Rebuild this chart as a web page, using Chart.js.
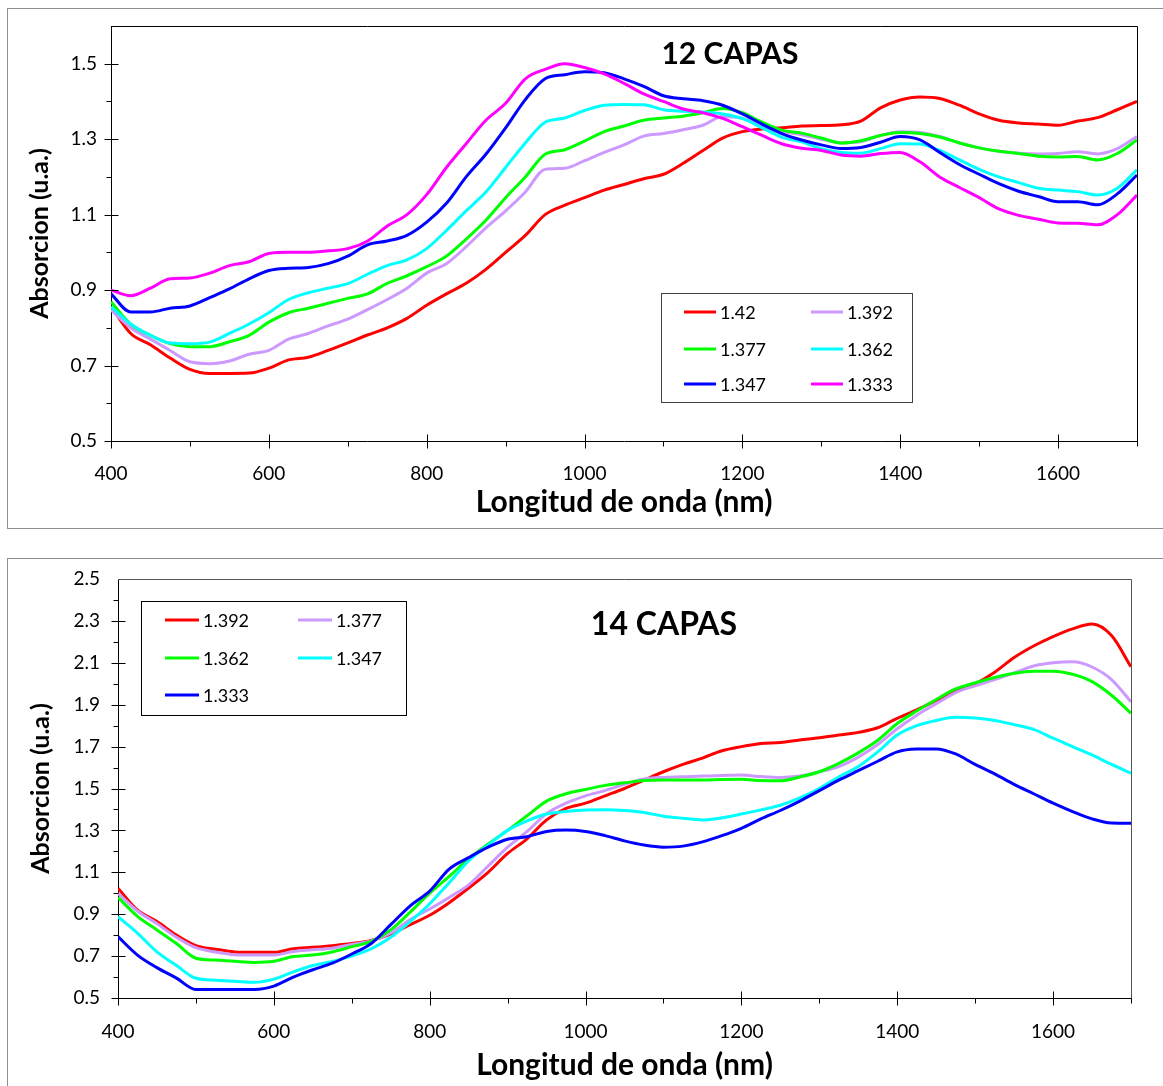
<!DOCTYPE html>
<html>
<head>
<meta charset="utf-8">
<title>Absorcion 12 y 14 capas</title>
<script src="https://cdn.jsdelivr.net/npm/chart.js@4.4.1/dist/chart.umd.min.js"></script>
<style>
  body { margin: 0; background: #fff; width: 1163px; height: 1086px; overflow: hidden; position: relative; }
  .frame { position: absolute; border: 1px solid #8e8e8e; }
  canvas { position: absolute; left: 0; }
</style>
</head>
<body>
<div class="frame" style="left:7px;top:8px;width:1170px;height:519px;"></div>
<div class="frame" style="left:7px;top:558px;width:1170px;height:540px;"></div>
<canvas id="chart12" width="1163" height="530" style="top:0"></canvas>
<canvas id="chart14" width="1163" height="541" style="top:545px"></canvas>
<script>
// wavelength (nm), shared by both charts
const wavelengths = [400,425,450,475,500,525,550,575,600,625,650,675,700,725,750,775,800,825,850,875,
  900,925,950,975,1000,1025,1050,1075,1100,1125,1150,1175,1200,1225,1250,1275,1300,1325,1350,1375,
  1400,1425,1450,1475,1500,1525,1550,1575,1600,1625,1650,1675,1700];

// ---- 12 CAPAS ----
const names12 = ['1.42', '1.392', '1.377', '1.362', '1.347', '1.333'];
const colors12 = ['#ff0000', '#cc99ff', '#00ff00', '#00ffff', '#0000ff', '#ff00ff'];

const c12_142 = [0.856,0.785,0.755,0.72,0.69,0.679,0.679,0.68,0.693,0.715,
  0.722,0.74,0.76,0.781,0.8,0.825,0.86,0.89,0.918,0.955,
  1.0,1.045,1.1,1.125,1.145,1.165,1.18,1.195,1.207,1.236,
  1.27,1.303,1.32,1.327,1.33,1.335,1.336,1.338,1.348,1.383,
  1.404,1.412,1.408,1.39,1.367,1.35,1.343,1.34,1.337,1.348,
  1.357,1.378,1.4];
const c12_1392 = [0.847,0.8,0.77,0.74,0.71,0.705,0.712,0.73,0.74,0.77,
  0.785,0.805,0.823,0.848,0.875,0.905,0.945,0.97,1.015,1.065,
  1.11,1.16,1.22,1.223,1.243,1.265,1.285,1.308,1.315,1.325,
  1.337,1.36,1.355,1.335,1.32,1.312,1.3,1.29,1.293,1.31,
  1.32,1.318,1.307,1.29,1.277,1.268,1.263,1.261,1.262,1.267,
  1.261,1.275,1.307];
const c12_1377 = [0.869,0.81,0.78,0.758,0.75,0.75,0.763,0.78,0.815,0.84,
  0.852,0.865,0.878,0.89,0.918,0.938,0.962,0.99,1.035,1.085,
  1.145,1.2,1.26,1.272,1.295,1.32,1.335,1.35,1.356,1.361,
  1.37,1.381,1.37,1.345,1.324,1.316,1.303,1.29,1.296,1.31,
  1.318,1.315,1.306,1.29,1.277,1.268,1.262,1.255,1.253,1.254,
  1.245,1.262,1.298];
const c12_1362 = [0.856,0.81,0.78,0.76,0.758,0.762,0.785,0.81,0.84,0.875,
  0.893,0.905,0.917,0.942,0.965,0.98,1.01,1.058,1.11,1.16,
  1.225,1.29,1.345,1.356,1.376,1.39,1.392,1.391,1.378,1.374,
  1.372,1.367,1.355,1.33,1.305,1.293,1.275,1.265,1.263,1.275,
  1.288,1.287,1.27,1.245,1.22,1.2,1.185,1.17,1.165,1.161,
  1.152,1.17,1.219];
const c12_1347 = [0.89,0.842,0.842,0.852,0.858,0.88,0.903,0.93,0.952,0.958,
  0.96,0.97,0.99,1.02,1.03,1.045,1.08,1.13,1.2,1.26,
  1.33,1.405,1.46,1.471,1.479,1.476,1.46,1.44,1.415,1.407,
  1.402,1.39,1.367,1.34,1.315,1.298,1.285,1.275,1.278,1.292,
  1.307,1.298,1.265,1.233,1.207,1.182,1.162,1.148,1.134,1.134,
  1.126,1.155,1.205];
const c12_1333 = [0.9,0.885,0.905,0.93,0.932,0.945,0.965,0.975,0.997,1.0,
  1.0,1.004,1.01,1.03,1.07,1.1,1.153,1.225,1.288,1.35,
  1.395,1.46,1.485,1.5,1.49,1.473,1.448,1.42,1.4,1.38,
  1.37,1.355,1.333,1.31,1.288,1.276,1.27,1.258,1.255,1.262,
  1.265,1.24,1.2,1.172,1.145,1.115,1.098,1.088,1.078,1.077,
  1.073,1.1,1.152];

// ---- 14 CAPAS ----
const names14 = ['1.392', '1.377', '1.362', '1.347', '1.333'];
const colors14 = ['#ff0000', '#cc99ff', '#00ff00', '#00ffff', '#0000ff'];

const c14_1392 = [1.024,0.92,0.865,0.8,0.75,0.733,0.72,0.718,0.718,0.735,
  0.742,0.75,0.76,0.775,0.805,0.85,0.895,0.955,1.025,1.1,
  1.19,1.26,1.35,1.405,1.43,1.465,1.5,1.54,1.58,1.615,
  1.645,1.68,1.7,1.715,1.72,1.732,1.742,1.755,1.768,1.79,
  1.835,1.875,1.92,1.965,2.0,2.055,2.125,2.18,2.225,2.262,
  2.285,2.23,2.081];
const c14_1377 = [1.0,0.915,0.855,0.79,0.74,0.72,0.707,0.705,0.705,0.722,
  0.73,0.738,0.755,0.772,0.81,0.875,0.925,0.98,1.04,1.13,
  1.22,1.295,1.38,1.43,1.465,1.49,1.52,1.545,1.553,1.556,
  1.56,1.562,1.564,1.557,1.553,1.56,1.58,1.605,1.65,1.71,
  1.785,1.85,1.905,1.958,1.99,2.02,2.052,2.085,2.1,2.105,
  2.08,2.02,1.914];
const c14_1362 = [0.98,0.89,0.825,0.76,0.69,0.681,0.675,0.67,0.675,0.698,
  0.705,0.72,0.745,0.77,0.825,0.91,1.0,1.08,1.165,1.235,
  1.3,1.37,1.44,1.475,1.495,1.515,1.527,1.538,1.541,1.541,
  1.541,1.543,1.544,1.538,1.537,1.555,1.58,1.62,1.67,1.73,
  1.81,1.87,1.925,1.975,2.005,2.03,2.05,2.06,2.06,2.045,
  2.01,1.945,1.859];
const c14_1347 = [0.888,0.81,0.72,0.655,0.594,0.585,0.58,0.575,0.59,0.625,
  0.655,0.675,0.7,0.735,0.79,0.865,0.95,1.05,1.155,1.23,
  1.3,1.345,1.378,1.39,1.397,1.398,1.395,1.385,1.368,1.358,
  1.35,1.36,1.378,1.398,1.42,1.455,1.5,1.555,1.605,1.675,
  1.755,1.8,1.825,1.84,1.837,1.825,1.805,1.782,1.74,1.7,
  1.66,1.615,1.573];
const c14_1333 = [0.793,0.705,0.645,0.595,0.541,0.541,0.541,0.541,0.557,0.6,
  0.635,0.666,0.71,0.76,0.85,0.94,1.01,1.115,1.17,1.22,
  1.258,1.27,1.295,1.302,1.295,1.275,1.25,1.23,1.22,1.225,
  1.245,1.275,1.31,1.355,1.395,1.44,1.49,1.54,1.585,1.63,
  1.675,1.688,1.689,1.665,1.615,1.57,1.52,1.475,1.43,1.39,
  1.355,1.335,1.334];

const FONT = 'Lato, "Open Sans", sans-serif';

// plot area top/right border + Excel style tick marks
const plotFrame = {
  id: 'plotFrame',
  afterDraw(chart, args, o) {
    const {ctx, chartArea: a, scales: {x, y}} = chart;
    ctx.save();
    ctx.lineWidth = 1;
    ctx.strokeStyle = o.color;
    ctx.beginPath();
    ctx.moveTo(a.left, Math.round(a.top) + 0.5);
    ctx.lineTo(Math.round(a.right) + 0.5, Math.round(a.top) + 0.5);
    ctx.lineTo(Math.round(a.right) + 0.5, a.bottom);
    ctx.stroke();

    ctx.strokeStyle = '#000';
    ctx.beginPath();
    const by = Math.round(a.bottom) + 0.5;
    x.ticks.forEach(t => {
      const px = Math.round(x.getPixelForValue(t.value)) + 0.5;
      const major = t.label !== '';
      ctx.moveTo(px, major ? by - 7 : by);
      ctx.lineTo(px, by + (major ? 7 : 5));
    });
    const lx = Math.round(a.left) + 0.5;
    y.ticks.forEach(t => {
      const py = Math.round(y.getPixelForValue(t.value)) + 0.5;
      if (py < a.top + 2) return;
      const major = t.label !== '';
      ctx.moveTo(lx - (major ? 7 : 5), py);
      ctx.lineTo(major ? lx + 7 : lx, py);
    });
    ctx.stroke();
    ctx.restore();
  }
};

const capTitle = {
  id: 'capTitle',
  afterDraw(chart, args, o) {
    const ctx = chart.ctx;
    ctx.save();
    ctx.font = 'bold ' + o.size + 'px ' + FONT;
    ctx.fillStyle = '#000';
    ctx.textAlign = 'center';
    ctx.textBaseline = 'alphabetic';
    ctx.fillText(o.text, o.x, o.y);
    ctx.restore();
  }
};

// boxed legend in two columns, like the original
const boxLegend = {
  id: 'boxLegend',
  afterDraw(chart, args, o) {
    const ctx = chart.ctx;
    ctx.save();
    ctx.fillStyle = '#fff';
    ctx.fillRect(o.left, o.top, o.width, o.height);
    ctx.strokeStyle = o.border;
    ctx.lineWidth = 1;
    ctx.strokeRect(o.left + 0.5, o.top + 0.5, o.width, o.height);
    ctx.font = '18px ' + FONT;
    ctx.textBaseline = 'middle';
    ctx.textAlign = 'left';
    chart.data.datasets.forEach((ds, i) => {
      const cx = o.cols[i % 2];
      const cy = o.rows[Math.floor(i / 2)];
      ctx.strokeStyle = ds.borderColor;
      ctx.lineWidth = 3;
      ctx.beginPath();
      ctx.moveTo(cx, cy);
      ctx.lineTo(cx + o.lineLen, cy);
      ctx.stroke();
      ctx.fillStyle = '#000';
      ctx.fillText(ds.label, cx + o.lineLen + 4, cy + 1);
    });
    ctx.restore();
  }
};

function makeChart(canvasId, names, colors, series, o) {
  return new Chart(document.getElementById(canvasId), {
    type: 'line',
    data: {
      datasets: series.map((vals, i) => ({
        label: names[i],
        data: wavelengths.map((w, j) => ({x: w, y: vals[j]})),
        borderColor: colors[i],
        backgroundColor: colors[i],
        borderWidth: 3,
        pointRadius: 0,
        cubicInterpolationMode: 'monotone',
        order: series.length - i
      }))
    },
    options: {
      responsive: false,
      animation: false,
      devicePixelRatio: 1,
      layout: {padding: o.padding},
      plugins: {
        legend: {display: false},
        tooltip: {enabled: false},
        plotFrame: {color: o.frameColor},
        capTitle: o.title,
        boxLegend: o.legend
      },
      scales: {
        x: {
          type: 'linear',
          min: 400,
          max: 1700,
          afterFit: s => { s.height = o.xHeight; },
          grid: {display: false, drawTicks: false},
          border: {display: true, color: '#000', width: 1},
          ticks: {
            stepSize: 100,
            autoSkip: false,
            maxRotation: 0,
            padding: o.xPad,
            color: '#000',
            font: {family: FONT, size: 19},
            callback: v => (Math.round(v) % 200 === 0 ? String(Math.round(v)) : '')
          },
          title: {
            display: true,
            text: 'Longitud de onda (nm)',
            color: '#000',
            font: {family: FONT, size: 30, weight: 'bold'},
            padding: {top: 0, bottom: o.xTitlePad}
          }
        },
        y: {
          type: 'linear',
          min: o.yMin,
          max: o.yMax,
          afterFit: s => { s.width = o.yWidth; },
          grid: {display: false, drawTicks: false},
          border: {display: true, color: '#000', width: 1},
          ticks: {
            stepSize: 0.1,
            autoSkip: false,
            padding: o.yPad,
            color: '#000',
            font: {family: FONT, size: 19},
            callback: v => {
              const k = Math.round(v * 10);
              return k % 2 === 1 ? (k / 10).toFixed(1) : '';
            }
          },
          title: {
            display: true,
            text: 'Absorcion (u.a.)',
            color: '#000',
            font: {family: FONT, size: 25, weight: 'bold'},
            padding: {top: o.yTitlePad, bottom: 0}
          }
        }
      }
    },
    plugins: [plotFrame, capTitle, boxLegend]
  });
}

makeChart('chart12', names12, colors12,
  [c12_142, c12_1392, c12_1377, c12_1362, c12_1347, c12_1333], {
    padding: {left: 0, top: 26, right: 26, bottom: 0},
    yWidth: 111, xHeight: 89,
    yMin: 0.5, yMax: 1.6,
    xPad: 21, yPad: 14, xTitlePad: 10, yTitlePad: 25,
    frameColor: '#000',
    title: {text: '12 CAPAS', x: 730, y: 64, size: 30},
    legend: {left: 661, top: 293, width: 251, height: 109, border: '#404040',
      cols: [684, 811], rows: [312, 349, 384], lineLen: 32}
  });

makeChart('chart14', names14, colors14,
  [c14_1392, c14_1377, c14_1362, c14_1347, c14_1333], {
    padding: {left: 0, top: 34, right: 32, bottom: 0},
    yWidth: 118, xHeight: 88,
    yMin: 0.5, yMax: 2.5,
    xPad: 22, yPad: 18, xTitlePad: 3, yTitlePad: 26,
    frameColor: '#555',
    title: {text: '14 CAPAS', x: 664, y: 90, size: 32},
    legend: {left: 141, top: 56, width: 265, height: 114, border: '#000',
      cols: [165, 298], rows: [75, 113, 150], lineLen: 34}
  });
</script>
</body>
</html>
